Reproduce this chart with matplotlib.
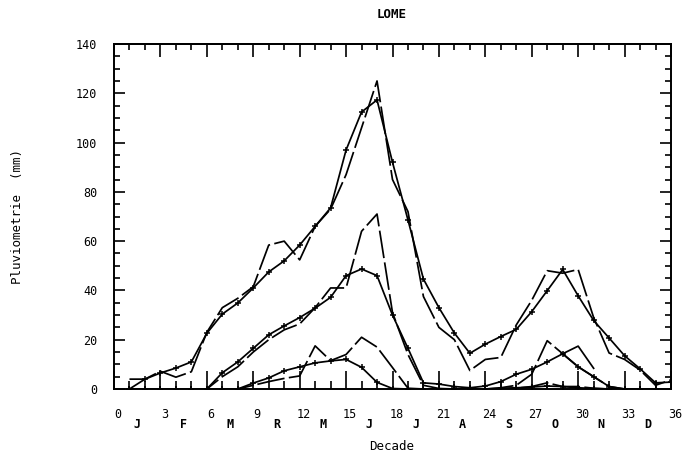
import numpy as np
import matplotlib
matplotlib.use("Agg")
import matplotlib.pyplot as plt
from matplotlib.ticker import MultipleLocator

decades = list(range(1, 37))

# upper pair
mean_high = [0, 4, 6.5, 8.5, 11, 22.6, 30.4, 34.9, 41, 47.5, 52, 58.4, 66, 73.5, 97, 112.4,
             117.3, 92, 68.6, 44.6, 33, 22.7, 14.5, 18.2, 21.3, 24.2, 31.4, 39.9, 48.5, 37.8,
             27.8, 20.7, 13.5, 8.2, 2.5, 2.8]
year_high = [4, 4, 7.2, 4.8, 7, 23, 33, 36.8, 41.5, 58.4, 60, 52.4, 66, 73, 87, 106,
             125, 85, 72, 37.5, 25, 20, 7.5, 12, 12.8, 26, 36, 48, 47, 48.5,
             29, 14.6, 12, 7.7, 1.5, 3.7]
# middle pair
mean_mid = [0, 0, 0, 0, 0, 0, 6.6, 11, 16.5, 22, 25.6, 29, 32.8, 37.2, 46, 48.7,
            46, 30, 16.5, 2.5, 2, 1, 0.5, 1.2, 3, 6, 8, 11, 14.3, 9,
            5, 1, 0, 0, 0, 0]
year_mid = [0, 0, 0, 0, 0, 0, 5, 9, 15, 20, 24, 26.4, 33, 41, 41, 64,
            71, 31, 14, 1.5, 0.2, 0, 0, 0, 0.5, 1.5, 6, 19.6, 14.3, 9,
            5, 1, 0, 0, 0, 0]
year_mid_b = [np.nan] * 28 + [14.3, 17.4, 8.4] + [np.nan] * 5
# lower pair
mean_low = [0, 0, 0, 0, 0, 0, 0, 0, 2.4, 4.5, 7.4, 9, 10.6, 11.4, 12, 8.8,
            2.7, 0.2, 0, 0, 0, 0, 0, 0, 0.3, 0.5, 0.8, 1.2, 1, 0.5,
            0.2, 0, 0, 0, 0, 0]
year_low = [0, 0, 0, 0, 0, 0, 0, 0, 1.5, 3, 4.3, 5.3, 17.5, 11.5, 14, 21,
            17, 8.7, 0.3, 0, 0, 0, 0, 0, 0, 0.3, 1, 2.5, 1, 1,
            0.3, 0, 0, 0, 0, 0]

num_ticks = list(range(0, 37, 3))
month_pos = [1.5 + 3 * i for i in range(12)]
month_labels = ["J", "F", "M", "R", "M", "J", "J", "A", "S", "O", "N", "D"]
y_ticks = list(range(0, 141, 20))

mono = "DejaVu Sans Mono"
plt.rcParams["font.family"] = mono

fig = plt.figure(figsize=(6.85, 4.58), dpi=100)
ax = fig.add_axes([114 / 685, 1 - 389 / 458, (671 - 114) / 685, (389 - 44) / 458])

lw = 1.25
dash = (0, (16, 2.5))
mk = dict(marker="+", ms=5, mew=1.1)
ax.plot(decades, mean_high, color="black", lw=lw, **mk)
ax.plot(decades, year_high, color="black", lw=lw, linestyle=dash)
ax.plot(decades, mean_mid, color="black", lw=lw, **mk)
ax.plot(decades, year_mid, color="black", lw=lw, linestyle=dash)
ax.plot(decades, year_mid_b, color="black", lw=lw)
ax.plot(decades, mean_low, color="black", lw=lw, **mk)
ax.plot(decades, year_low, color="black", lw=lw, linestyle=dash)

ax.set_xlim(0, 36)
ax.set_ylim(0, 140)
ax.xaxis.set_major_locator(MultipleLocator(3))
ax.xaxis.set_minor_locator(MultipleLocator(1))
ax.yaxis.set_major_locator(MultipleLocator(20))
ax.yaxis.set_minor_locator(MultipleLocator(5))
ax.tick_params(which="both", direction="in", top=False, right=True, width=1.2, colors="black")
ax.tick_params(axis="x", which="major", length=13)
ax.tick_params(axis="x", which="minor", length=6)
ax.tick_params(axis="y", which="major", length=8)
ax.tick_params(axis="y", which="minor", length=4)
ax.tick_params(axis="y", which="major", pad=12, labelsize=8.5)
ax.set_yticks(y_ticks)
ax.set_yticklabels([str(v) for v in y_ticks])
ax.set_xticklabels([])
for s in ax.spines.values():
    s.set_linewidth(1.4)

top = ax.secondary_xaxis("top")
top.xaxis.set_major_locator(MultipleLocator(3))
top.xaxis.set_minor_locator(MultipleLocator(1))
top.tick_params(which="both", direction="in", width=1.2)
top.tick_params(which="major", length=9)
top.tick_params(which="minor", length=4)
top.set_xticklabels([])
top.spines["top"].set_linewidth(1.4)

tr = ax.get_xaxis_transform()
for t in num_ticks:
    ax.text(t + 0.25, -0.075, str(t), transform=tr, ha="center", va="center", fontsize=8.5)
for p, m in zip(month_pos, month_labels):
    ax.text(p, -0.102, m, transform=tr, ha="center", va="center", fontsize=8.5, fontweight="bold")

fig.text(392 / 685, 1 - 14 / 458, "LOME", ha="center", va="center", fontsize=9, fontweight="bold")
fig.text(392 / 685, 1 - 446 / 458, "Decade", ha="center", va="center", fontsize=9)
fig.text(18 / 685, 1 - 216 / 458, "Pluviometrie  (mm)", ha="center", va="center",
         rotation=90, fontsize=9)

fig.savefig("out.png", dpi=100)
